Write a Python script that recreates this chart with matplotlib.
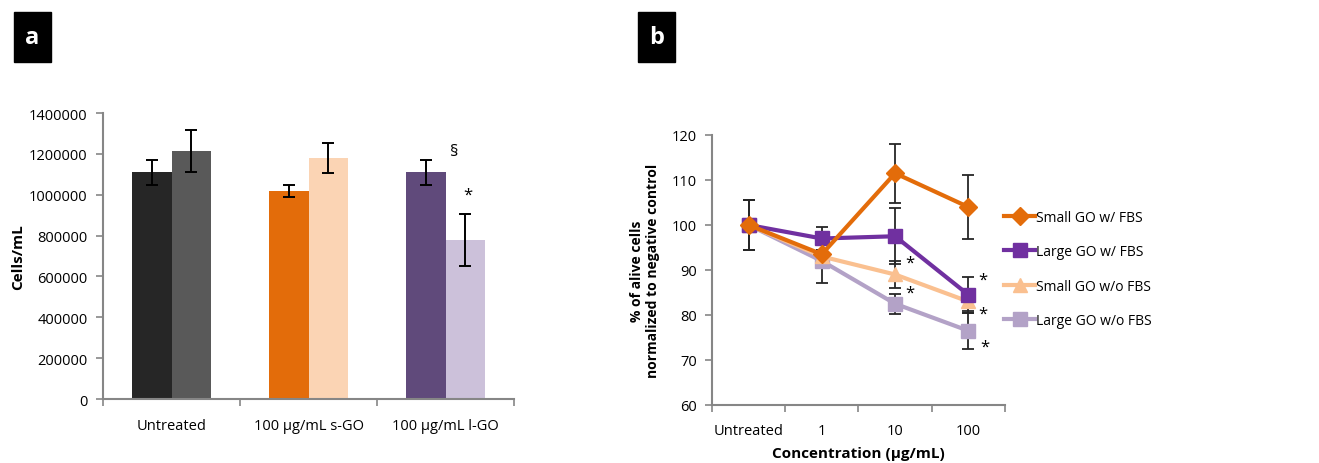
import matplotlib.pyplot as plt
import numpy as np
from matplotlib.patches import Rectangle
from matplotlib.ticker import FuncFormatter

plt.rcParams['font.family'] = ['Open Sans', 'DejaVu Sans']

# panel a data
groups = ['Untreated', '100 µg/mL s-GO', '100 µg/mL l-GO']
left_vals = [1110000, 1020000, 1110000]
left_err = [62000, 30000, 62000]
right_vals = [1215000, 1180000, 780000]
right_err = [103000, 72000, 128000]
left_cols = ['#262626', '#E36C0A', '#604A7B']
right_cols = ['#595959', '#FBD4B4', '#CCC1DA']

# panel b data
conc = ['Untreated', '1', '10', '100']
small_fbs = [100, 93.5, 111.5, 104]
small_fbs_err = [5.5, 1.0, 6.6, 7.2]
large_fbs = [100, 97, 97.5, 84.5]
large_fbs_err = [5.5, 2.5, 6.2, 4.0]
small_nofbs = [100, 93, 89, 83]
small_nofbs_err = [5.5, 1.5, 3.0, 2.2]
large_nofbs = [100, 92, 82.5, 76.5]
large_nofbs_err = [5.5, 5.0, 2.2, 4.0]

fig = plt.figure(figsize=(13.19, 4.64), dpi=100)
spine_col = '#868686'
fs_tick = 10.5

# ---- panel a ----
ax = fig.add_axes([0.0781, 0.1379, 0.3116, 0.6164])
x = np.arange(len(groups))
w = 0.29
ekw = dict(elinewidth=1.4, capthick=1.4, capsize=4, ecolor='black')
ax.bar(x - w/2, left_vals, w, color=left_cols, yerr=left_err, error_kw=ekw, zorder=2)
ax.bar(x + w/2, right_vals, w, color=right_cols, yerr=right_err, error_kw=ekw, zorder=2)
ax.set_xlim(-0.5, 2.5)
ax.set_ylim(0, 1400000)
ax.set_yticks(np.arange(0, 1400001, 200000))
ax.yaxis.set_major_formatter(FuncFormatter(lambda v, p: '%d' % v))
ax.set_xticks(x)
ax.set_xticklabels(groups, fontsize=fs_tick)
ax.set_xticks(np.arange(-0.5, 2.6, 1), minor=True)
ax.tick_params(axis='x', which='major', length=0, pad=14)
ax.tick_params(axis='x', which='minor', length=5, color=spine_col, width=1.2)
ax.tick_params(axis='y', length=5, color=spine_col, width=1.2, labelsize=fs_tick, pad=6)
for s in ['top', 'right']:
    ax.spines[s].set_visible(False)
for s in ['left', 'bottom']:
    ax.spines[s].set_color(spine_col)
    ax.spines[s].set_linewidth(1.5)
ax.set_ylabel('Cells/mL', fontsize=11, fontweight='bold', labelpad=3)
ax.text(2 - w/2 + 0.2, 1215000, '§', fontsize=12, ha='center', va='center')
ax.text(2 + w/2 + 0.02, 1000000, '*', fontsize=12, ha='center', va='center')

# ---- panel b ----
bx = fig.add_axes([0.5398, 0.125, 0.2221, 0.5819])
xb = np.arange(len(conc))
series = [
    (small_fbs, small_fbs_err, '#E36C0A', 'D', 9, 'Small GO w/ FBS'),
    (large_fbs, large_fbs_err, '#7030A0', 's', 10, 'Large GO w/ FBS'),
    (small_nofbs, small_nofbs_err, '#FAC090', '^', 10, 'Small GO w/o FBS'),
    (large_nofbs, large_nofbs_err, '#B3A2C7', 's', 10, 'Large GO w/o FBS'),
]
for vals, errs, col, mk, ms, lab in series:
    bx.errorbar(xb, vals, yerr=errs, fmt='none', ecolor='#262626',
                elinewidth=1.3, capsize=4, capthick=1.3, zorder=2)
for vals, errs, col, mk, ms, lab in reversed(series):
    bx.plot(xb, vals, color=col, marker=mk, markersize=ms, lw=3, label=lab, zorder=3)
bx.set_xlim(-0.5, 3.5)
bx.set_ylim(60, 120)
bx.set_yticks(np.arange(60, 121, 10))
bx.set_xticks(xb)
bx.set_xticklabels(conc, fontsize=fs_tick)
bx.set_xticks(np.arange(-0.5, 3.6, 1), minor=True)
bx.tick_params(axis='x', which='major', length=0, pad=13)
bx.tick_params(axis='x', which='minor', length=5, color=spine_col, width=1.2)
bx.tick_params(axis='y', length=5, color=spine_col, width=1.2, labelsize=fs_tick, pad=6)
for s in ['top', 'right']:
    bx.spines[s].set_visible(False)
for s in ['left', 'bottom']:
    bx.spines[s].set_color(spine_col)
    bx.spines[s].set_linewidth(1.5)
bx.set_ylabel('% of alive cells\nnormalized to negative control', fontsize=10,
              fontweight='bold', labelpad=8)
bx.set_xlabel('Concentration (µg/mL)', fontsize=11, fontweight='bold', labelpad=6)
for xs, ys in [(2.2, 91.6), (2.2, 85.0), (3.2, 87.8), (3.2, 80.2), (3.22, 73.0)]:
    bx.text(xs, ys, '*', fontsize=12, ha='center', va='center')

h, l = bx.get_legend_handles_labels()
fig.legend(h[::-1], l[::-1], loc='center left', bbox_to_anchor=(0.752, 0.418),
           frameon=False, fontsize=10, handlelength=2.2, handletextpad=0.1,
           labelspacing=1.4)

# panel labels
for lx, txt in [(0.0106, 'a'), (0.4837, 'b')]:
    fig.patches.append(Rectangle((lx, 0.864), 0.028, 0.108, transform=fig.transFigure,
                                 color='black', zorder=5))
    fig.text(lx + 0.014, 0.918, txt, color='white', fontsize=17, fontweight='bold',
             ha='center', va='center', zorder=6)

fig.savefig('out.png', dpi=100)
